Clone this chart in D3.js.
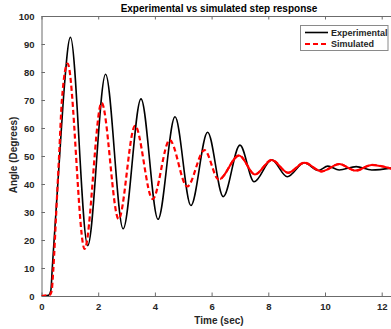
<!DOCTYPE html>
<html>
<head>
<meta charset="utf-8">
<script src="https://cdn.jsdelivr.net/npm/d3@7"></script>
<style>
body { margin: 0; background: #fff; }
svg { display: block; font-family: "Liberation Sans", Arial, sans-serif; }
.tick text { font-weight: bold; fill: #262626; font-size: 9.5px; }
</style>
</head>
<body>
<script>
// time axis ticks and angle axis ticks
var xTicks = [0, 2, 4, 6, 8, 10, 12];
var yTicks = [0, 10, 20, 30, 40, 50, 60, 70, 80, 90, 100];

var expTime = [0, 0.25, 0.33, 0.38, 0.51, 0.64, 0.77, 1.02, 1.63, 2.26, 2.88, 3.51, 4.11, 4.71, 5.27,
               5.86, 6.41, 7.0, 7.5, 8.12, 8.67, 9.27, 9.76, 10.1, 10.5, 11.1, 11.65, 12.4];
var expAngle = [0, 0.3, 2, 10, 30, 50, 70, 92.4, 18, 79.2, 24, 70.4, 27.4, 64, 32.3,
                58.5, 35.5, 53.9, 40.8, 48.6, 42.6, 47.6, 44.8, 46.4, 45, 46.2, 45, 45.8];

// simulated response
var simTime = [0, 0.3, 0.36, 0.42, 0.52, 0.62, 0.72, 0.92, 1.52, 2.12, 2.72, 3.3, 3.92, 4.52, 5.14,
               5.75, 6.25, 6.97, 7.53, 8.12, 8.7, 9.27, 9.88, 10.5, 11.08, 11.65, 12.4];
var simAngle = [0, 0.5, 2, 10, 30, 50, 70, 83, 16.8, 69, 27.5, 60.8, 34.6, 55.7, 39.1,
                52.1, 41.6, 50.2, 43.4, 48.6, 44, 47.6, 44.5, 47.1, 44.8, 46.8, 45.3];

var width = 391, height = 329,
    marginLeft = 41.5, plotTop = 16, plotBottom = 296;

var svg = d3.select("body").append("svg")
    .attr("width", width)
    .attr("height", height);

var x = d3.scaleLinear().domain([0, 12.5]).range([marginLeft, marginLeft + 28.35 * 12.5]);
var y = d3.scaleLinear().domain([0, 100]).range([plotBottom, plotTop]);

var defs = svg.append("defs");
defs.append("clipPath").attr("id", "plot")
  .append("rect").attr("x", marginLeft).attr("y", plotTop)
    .attr("width", width - marginLeft).attr("height", plotBottom - plotTop);
defs.append("clipPath").attr("id", "late")
  .append("rect").attr("x", x(6.3)).attr("y", plotTop)
    .attr("width", width - x(6.3)).attr("height", plotBottom - plotTop);

// axes, ticks pointing inward like matlab
var xAxis = svg.append("g")
    .attr("transform", "translate(0," + plotBottom + ")")
    .call(d3.axisBottom(x).tickValues(xTicks).tickSizeInner(-3.5).tickSizeOuter(0).tickPadding(9));
var xTop = svg.append("g")
    .attr("transform", "translate(0," + plotTop + ")")
    .call(d3.axisTop(x).tickValues(xTicks).tickSizeInner(-3.5).tickSizeOuter(0).tickFormat(""));
var yAxis = svg.append("g")
    .attr("transform", "translate(" + marginLeft + ",0)")
    .call(d3.axisLeft(y).tickValues(yTicks).tickSizeInner(-3.5).tickSizeOuter(0).tickPadding(7));

svg.selectAll(".domain, .tick line").attr("stroke", "#6b6b6b");
xAxis.selectAll(".tick text").attr("dy", "0.55em");

var expData = expTime.map(function(t, i) { return [t, expAngle[i]]; });
var simData = simTime.map(function(t, i) { return [t, simAngle[i]]; });

var line = d3.line()
    .x(function(d) { return x(d[0]); })
    .y(function(d) { return y(d[1]); })
    .curve(d3.curveMonotoneX);

var plot = svg.append("g").attr("clip-path", "url(#plot)");

plot.append("path")
    .attr("d", line(expData))
    .attr("fill", "none")
    .attr("stroke", "#000")
    .attr("stroke-width", 1.6);

plot.append("path")
    .attr("d", line(simData))
    .attr("fill", "none")
    .attr("stroke", "#ff0000")
    .attr("stroke-width", 2.2)
    .attr("stroke-dasharray", "5,3");

// the dense tail of the simulated line renders solid
plot.append("g").attr("clip-path", "url(#late)")
  .append("path")
    .attr("d", line(simData))
    .attr("fill", "none")
    .attr("stroke", "#ff0000")
    .attr("stroke-width", 2);

// title and labels
svg.append("text")
    .attr("x", 219).attr("y", 12)
    .attr("text-anchor", "middle")
    .attr("font-size", "10px").attr("font-weight", "bold").attr("fill", "#000")
    .text("Experimental vs simulated step response");

svg.append("text")
    .attr("x", 219).attr("y", 324)
    .attr("text-anchor", "middle")
    .attr("font-size", "10px").attr("font-weight", "bold").attr("fill", "#262626")
    .text("Time (sec)");

svg.append("text")
    .attr("transform", "translate(17,155) rotate(-90)")
    .attr("text-anchor", "middle")
    .attr("font-size", "10px").attr("font-weight", "bold").attr("fill", "#262626")
    .text("Angle (Degrees)");

// legend
var legend = svg.append("g");
legend.append("rect")
    .attr("x", 300.5).attr("y", 25.5).attr("width", 87.5).attr("height", 25)
    .attr("fill", "#fff").attr("stroke", "#8a8a8a").attr("stroke-width", 1);

var legendItems = [
  {name: "Experimental", color: "#000", dash: null, w: 1.6},
  {name: "Simulated", color: "#ff0000", dash: "5,3", w: 2.2}
];
legendItems.forEach(function(d, i) {
  var ly = 32.5 + i * 11.5;
  legend.append("line")
      .attr("x1", 305).attr("x2", 328).attr("y1", ly).attr("y2", ly)
      .attr("stroke", d.color).attr("stroke-width", d.w)
      .attr("stroke-dasharray", d.dash);
  legend.append("text")
      .attr("x", 331).attr("y", ly + 3.3)
      .attr("font-size", "9px").attr("font-weight", "bold").attr("fill", "#262626")
      .text(d.name);
});
</script>
</body>
</html>
